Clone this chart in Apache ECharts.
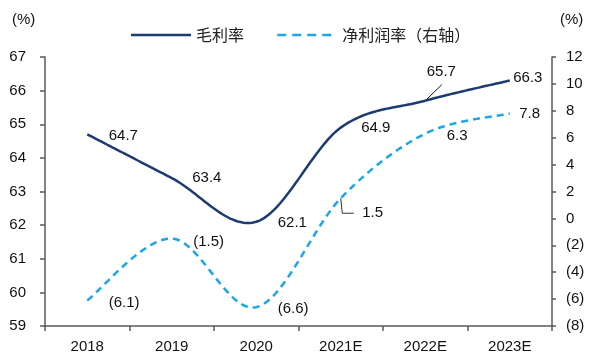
<!DOCTYPE html>
<html><head><meta charset="utf-8">
<script src="https://cdn.jsdelivr.net/npm/echarts@6/dist/echarts.min.js"></script>
<style>html,body{margin:0;padding:0;background:#fff}#c{width:600px;height:360px}</style>
</head><body><div id="c"></div>
<script>
const categories = ['2018', '2019', '2020', '2021E', '2022E', '2023E'];
const grossMargin = [64.7, 63.4, 62.1, 64.9, 65.7, 66.3];
const netMargin = [-6.1, -1.5, -6.6, 1.5, 6.3, 7.8];
const leftAxisRange = [59, 67, 1];
const rightAxisRange = [-8, 12, 2];
const seriesNames = ['毛利率', '净利润率（右轴）'];
const unitLabel = '(%)';

// label layout (pixel offsets from each point), kept apart from data
const grossLabelOffsets = [[21, 1.5], [20, 0], [21, 1], [20, 0], [1, -29], [3, -3]];
const netLabelOffsets = [[21, 2], [21, 3], [21, 2], [21, 15], [21, 2], [9, 0]];

const NUM_FONT = '"Liberation Sans", Arial, sans-serif';
const CJK_FONT = '"Noto Sans CJK SC", sans-serif';
const NAVY = '#1c3b72';
const SKY = '#1ba6ea';
const AXIS = '#595959';

function fmt(v) { return v < 0 ? '(' + Math.abs(v).toFixed(1) + ')' : v.toFixed(1); }
function fmtAxis(v) { return v < 0 ? '(' + Math.abs(v) + ')' : String(v); }

function buildData(values, offsets) {
  return values.map((v, i) => ({ value: v, label: { offset: offsets[i] } }));
}

// Smooth curve (Catmull-Rom style Bezier) through points placed by the axes
function curveSeries(values, yAxisIndex, color, dash, z) {
  return {
    type: 'custom', coordinateSystem: 'cartesian2d', yAxisIndex: yAxisIndex,
    silent: true, z: z,
    data: values.map((v, i) => [i, v]),
    encode: { x: 0, y: 1 },
    renderItem: function (params, api) {
      if (params.dataIndex !== 0) return null;
      const pts = values.map((v, i) => api.coord([i, v]));
      const n = pts.length;
      const out = [pts[0]];
      for (let i = 0; i < n - 1; i++) {
        const p0 = pts[Math.max(i - 1, 0)], p1 = pts[i], p2 = pts[i + 1], p3 = pts[Math.min(i + 2, n - 1)];
        const c1 = [p1[0] + (p2[0] - p0[0]) / 6, p1[1] + (p2[1] - p0[1]) / 6];
        const c2 = [p2[0] - (p3[0] - p1[0]) / 6, p2[1] - (p3[1] - p1[1]) / 6];
        const steps = 40;
        for (let s = 1; s <= steps; s++) {
          const t = s / steps, u = 1 - t;
          out.push([
            u * u * u * p1[0] + 3 * u * u * t * c1[0] + 3 * u * t * t * c2[0] + t * t * t * p2[0],
            u * u * u * p1[1] + 3 * u * u * t * c1[1] + 3 * u * t * t * c2[1] + t * t * t * p2[1]
          ]);
        }
      }
      return {
        type: 'polyline', shape: { points: out },
        style: { stroke: color, lineWidth: 2.5, fill: null, lineDash: dash, lineJoin: 'round' }
      };
    }
  };
}

const chart = echarts.init(document.getElementById('c'), null, { renderer: 'canvas' });

const labelBase = {
  show: true, position: 'right', distance: 0,
  color: '#111', fontSize: 15, fontFamily: NUM_FONT,
  formatter: p => fmt(p.value)
};

chart.setOption({
  animation: false,
  backgroundColor: '#fff',
  grid: { left: 45, right: 48, top: 57, bottom: 34 },
  legend: {
    top: 22, left: 'center',
    itemWidth: 60, itemHeight: 12, itemGap: 32,
    textStyle: { fontFamily: CJK_FONT, fontSize: 16, color: '#222' },
    data: [
      { name: seriesNames[0], itemStyle: { opacity: 0 }, lineStyle: { color: NAVY, width: 2.5, opacity: 1, type: 'solid' } },
      { name: seriesNames[1], itemStyle: { opacity: 0 }, lineStyle: { color: SKY, width: 2.5, opacity: 1, type: [9, 6] } }
    ]
  },
  xAxis: {
    type: 'category', data: categories, boundaryGap: true,
    axisLine: { onZero: false, lineStyle: { color: AXIS, width: 1.5 } },
    axisTick: { show: true, length: 5, lineStyle: { color: AXIS, width: 1.5 } },
    axisLabel: { color: '#111', fontSize: 15, fontFamily: NUM_FONT, margin: 13 }
  },
  yAxis: [{
    type: 'value', min: leftAxisRange[0], max: leftAxisRange[1], interval: leftAxisRange[2],
    axisLine: { show: true, lineStyle: { color: AXIS, width: 1.5 } },
    axisTick: { show: true, length: 5, lineStyle: { color: AXIS, width: 1.5 } },
    splitLine: { show: false },
    axisLabel: { color: '#111', fontSize: 15, fontFamily: NUM_FONT, margin: 19 }
  }, {
    type: 'value', min: rightAxisRange[0], max: rightAxisRange[1], interval: rightAxisRange[2],
    position: 'right',
    axisLine: { show: true, lineStyle: { color: AXIS, width: 1.5 } },
    axisTick: { show: true, length: 4, lineStyle: { color: AXIS, width: 1.5 } },
    splitLine: { show: false },
    axisLabel: { color: '#111', fontSize: 15, fontFamily: NUM_FONT, margin: 14, formatter: fmtAxis }
  }],
  series: [{
    name: seriesNames[0], type: 'line', yAxisIndex: 0,
    data: buildData(grossMargin, grossLabelOffsets),
    symbol: 'circle', symbolSize: 1, showSymbol: true,
    itemStyle: { color: 'rgba(0,0,0,0)', borderWidth: 0 },
    lineStyle: { color: NAVY, width: 2.5, opacity: 0 },
    label: labelBase, z: 5
  }, {
    name: seriesNames[1], type: 'line', yAxisIndex: 1,
    data: buildData(netMargin, netLabelOffsets),
    symbol: 'circle', symbolSize: 1, showSymbol: true,
    itemStyle: { color: 'rgba(0,0,0,0)', borderWidth: 0 },
    lineStyle: { color: SKY, width: 2.5, opacity: 0 },
    label: labelBase, z: 5
  },
  curveSeries(grossMargin, 0, NAVY, null, 3),
  curveSeries(netMargin, 1, SKY, [7, 5], 2)
  ]
});

// leader lines computed from data positions through the library's scales
const pGross = chart.convertToPixel({ xAxisIndex: 0, yAxisIndex: 0 }, [4, grossMargin[4]]);
const pNet = chart.convertToPixel({ xAxisIndex: 0, yAxisIndex: 1 }, [3, netMargin[3]]);

chart.setOption({
  graphic: [
    { type: 'text', left: 12, top: 12, style: { text: unitLabel, fontSize: 15, fontFamily: NUM_FONT, fill: '#111' } },
    { type: 'text', left: 560, top: 12, style: { text: unitLabel, fontSize: 15, fontFamily: NUM_FONT, fill: '#111' } },
    { type: 'polyline', shape: { points: [[pGross[0], pGross[1]], [pGross[0] + 16.5, pGross[1] - 16]] },
      style: { stroke: '#111', lineWidth: 1, fill: null } },
    { type: 'polyline', shape: { points: [[pNet[0], pNet[1]], [pNet[0] + 1.5, pNet[1] + 15], [pNet[0] + 13, pNet[1] + 15]] },
      style: { stroke: '#333', lineWidth: 1, fill: null } }
  ]
});
</script>
</body></html>
